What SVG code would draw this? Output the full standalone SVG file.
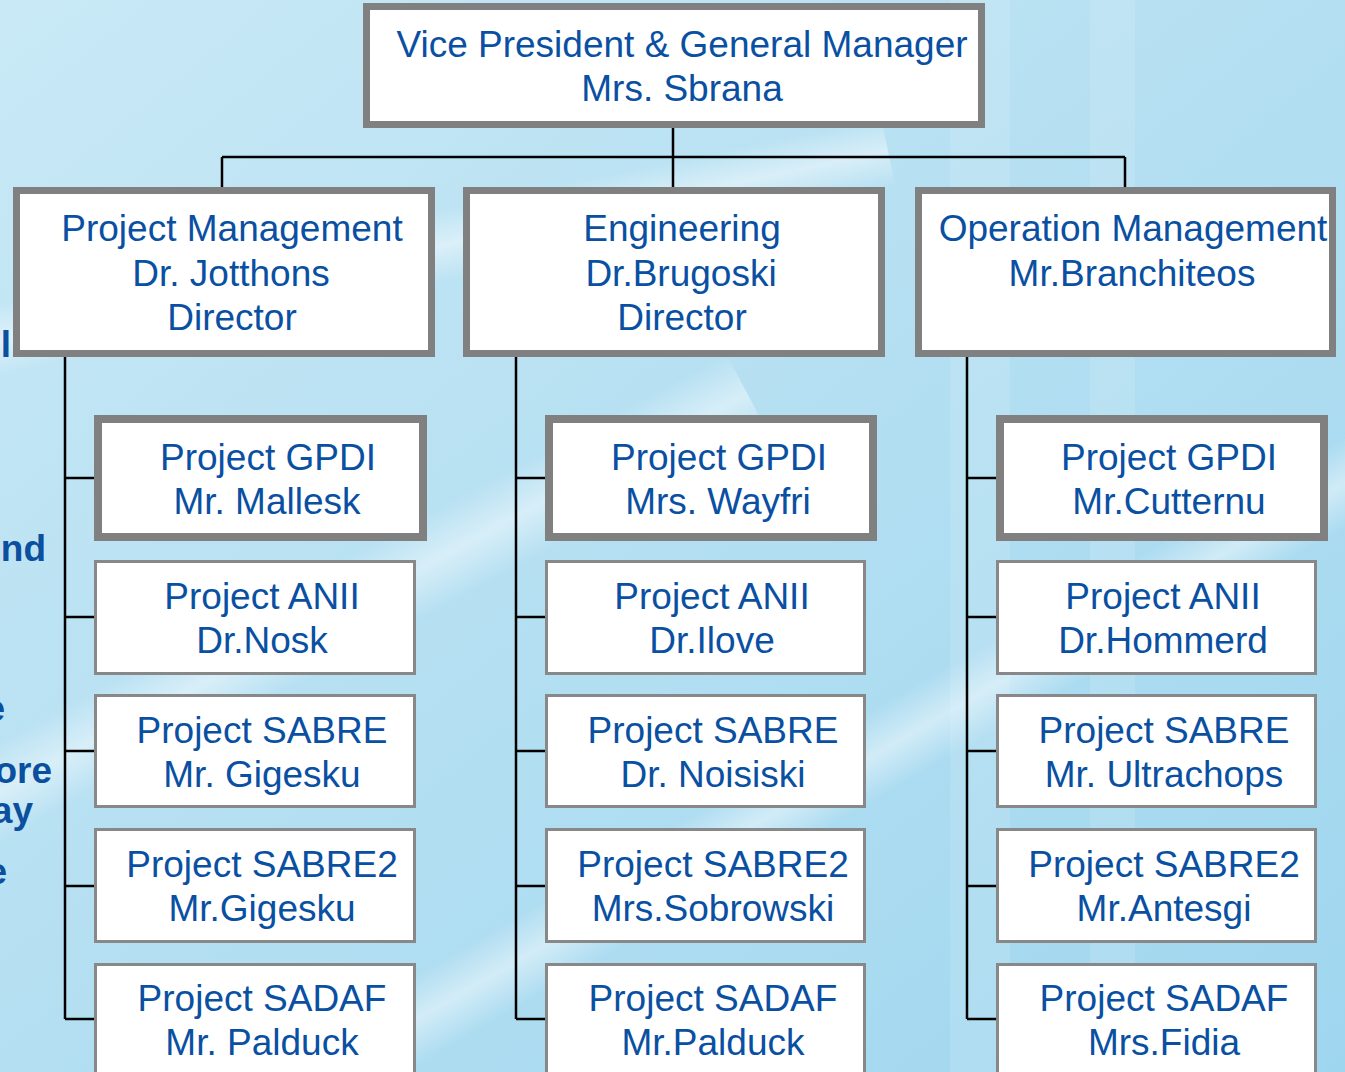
<svg xmlns="http://www.w3.org/2000/svg" width="1345" height="1072" viewBox="0 0 1345 1072">
  <defs>
    <linearGradient id="bg" x1="0" y1="0" x2="1" y2="1">
      <stop offset="0" stop-color="#c9e9f6"/>
      <stop offset="0.45" stop-color="#b6e0f2"/>
      <stop offset="1" stop-color="#9fd6ef"/>
    </linearGradient>
    <linearGradient id="pipe" x1="0" y1="0" x2="0" y2="1">
      <stop offset="0" stop-color="#ffffff" stop-opacity="0"/>
      <stop offset="0.5" stop-color="#ffffff" stop-opacity="0.45"/>
      <stop offset="1" stop-color="#ffffff" stop-opacity="0"/>
    </linearGradient>
    <style>
      .t { font-family: "Liberation Sans", Arial, sans-serif; font-size: 37px; fill: #0a50a2; text-anchor: middle; }
      .frag { font-family: "Liberation Sans", Arial, sans-serif; font-size: 37px; font-weight: bold; fill: #0b4f9f; text-anchor: end; }
      .big { fill: #ffffff; stroke: #808080; stroke-width: 7; }
      .gp { fill: #ffffff; stroke: #808080; stroke-width: 8; }
      .sm { fill: #ffffff; stroke: #888888; stroke-width: 3; }
      .c { stroke: #000000; stroke-width: 2.5; fill: none; }
    </style>
  </defs>

  <g id="background">
    <rect x="0" y="0" width="1345" height="1072" fill="url(#bg)"/>
    <rect x="-200" y="230" width="1100" height="70" fill="url(#pipe)" transform="rotate(-12 350 265)"/>
    <rect x="-100" y="560" width="900" height="90" fill="url(#pipe)" transform="rotate(-28 350 605)"/>
    <rect x="300" y="700" width="1200" height="80" fill="url(#pipe)" transform="rotate(-30 900 740)"/>
    <rect x="950" y="0" width="60" height="1072" fill="#ffffff" fill-opacity="0.12"/>
    <rect x="1090" y="0" width="45" height="1072" fill="#ffffff" fill-opacity="0.12"/>
  </g>

  <g id="fragments">
    <text class="frag" x="11" y="357">l</text>
    <text class="frag" x="46" y="561">nd</text>
    <text class="frag" x="5" y="721">e</text>
    <text class="frag" x="52" y="783">ore</text>
    <text class="frag" x="33" y="823">ay</text>
    <text class="frag" x="7" y="884">e</text>
  </g>

  <g id="connectors">
    <path class="c" d="M673 128 V187 M222 157 H1125 M222 157 V187 M1125 157 V187"/>
    <path class="c" d="M65 357 V1019 M65 478 H94 M65 617 H94 M65 751 H94 M65 886 H94 M65 1019 H94"/>
    <path class="c" d="M516 357 V1019 M516 478 H545 M516 617 H545 M516 751 H545 M516 886 H545 M516 1019 H545"/>
    <path class="c" d="M967 357 V1019 M967 478 H996 M967 617 H996 M967 751 H996 M967 886 H996 M967 1019 H996"/>
  </g>

  <g id="vp">
    <rect class="big" x="366.5" y="6.5" width="615" height="118"/>
    <text class="t" x="682" y="57">Vice President &amp; General Manager</text>
    <text class="t" x="682" y="101">Mrs. Sbrana</text>
  </g>

  <g id="pm">
    <rect class="big" x="16.5" y="190.5" width="415" height="163"/>
    <text class="t" x="232" y="241">Project Management</text>
    <text class="t" x="231" y="286">Dr. Jotthons</text>
    <text class="t" x="232" y="330">Director</text>
  </g>
  <g id="eng">
    <rect class="big" x="466.5" y="190.5" width="415" height="163"/>
    <text class="t" x="682" y="241">Engineering</text>
    <text class="t" x="681" y="286">Dr.Brugoski</text>
    <text class="t" x="682" y="330">Director</text>
  </g>
  <g id="op">
    <rect class="big" x="918.5" y="190.5" width="414" height="163"/>
    <text class="t" x="1133" y="241">Operation Management</text>
    <text class="t" x="1132" y="286">Mr.Branchiteos</text>
  </g>

  <!-- Column 1 -->
  <g id="c1-gpdi">
    <rect class="gp" x="98" y="419" width="325" height="118"/>
    <text class="t" x="268" y="470">Project GPDI</text>
    <text class="t" x="267" y="514">Mr. Mallesk</text>
  </g>
  <g id="c1-anii">
    <rect class="sm" x="95.5" y="561.5" width="319" height="112"/>
    <text class="t" x="262" y="609">Project ANII</text>
    <text class="t" x="262" y="653">Dr.Nosk</text>
  </g>
  <g id="c1-sabre">
    <rect class="sm" x="95.5" y="695.5" width="319" height="111"/>
    <text class="t" x="262" y="743">Project SABRE</text>
    <text class="t" x="262" y="787">Mr. Gigesku</text>
  </g>
  <g id="c1-sabre2">
    <rect class="sm" x="95.5" y="829.5" width="319" height="112"/>
    <text class="t" x="262" y="877">Project SABRE2</text>
    <text class="t" x="262" y="921">Mr.Gigesku</text>
  </g>
  <g id="c1-sadaf">
    <rect class="sm" x="95.5" y="964.5" width="319" height="120"/>
    <text class="t" x="262" y="1011">Project SADAF</text>
    <text class="t" x="262" y="1055">Mr. Palduck</text>
  </g>

  <!-- Column 2 -->
  <g id="c2-gpdi">
    <rect class="gp" x="549" y="419" width="324" height="118"/>
    <text class="t" x="719" y="470">Project GPDI</text>
    <text class="t" x="718" y="514">Mrs. Wayfri</text>
  </g>
  <g id="c2-anii">
    <rect class="sm" x="546.5" y="561.5" width="318" height="112"/>
    <text class="t" x="712" y="609">Project ANII</text>
    <text class="t" x="712" y="653">Dr.Ilove</text>
  </g>
  <g id="c2-sabre">
    <rect class="sm" x="546.5" y="695.5" width="318" height="111"/>
    <text class="t" x="713" y="743">Project SABRE</text>
    <text class="t" x="713" y="787">Dr. Noisiski</text>
  </g>
  <g id="c2-sabre2">
    <rect class="sm" x="546.5" y="829.5" width="318" height="112"/>
    <text class="t" x="713" y="877">Project SABRE2</text>
    <text class="t" x="713" y="921">Mrs.Sobrowski</text>
  </g>
  <g id="c2-sadaf">
    <rect class="sm" x="546.5" y="964.5" width="318" height="120"/>
    <text class="t" x="713" y="1011">Project SADAF</text>
    <text class="t" x="713" y="1055">Mr.Palduck</text>
  </g>

  <!-- Column 3 -->
  <g id="c3-gpdi">
    <rect class="gp" x="1000" y="419" width="324" height="118"/>
    <text class="t" x="1169" y="470">Project GPDI</text>
    <text class="t" x="1169" y="514">Mr.Cutternu</text>
  </g>
  <g id="c3-anii">
    <rect class="sm" x="997.5" y="561.5" width="318" height="112"/>
    <text class="t" x="1163" y="609">Project ANII</text>
    <text class="t" x="1163" y="653">Dr.Hommerd</text>
  </g>
  <g id="c3-sabre">
    <rect class="sm" x="997.5" y="695.5" width="318" height="111"/>
    <text class="t" x="1164" y="743">Project SABRE</text>
    <text class="t" x="1164" y="787">Mr. Ultrachops</text>
  </g>
  <g id="c3-sabre2">
    <rect class="sm" x="997.5" y="829.5" width="318" height="112"/>
    <text class="t" x="1164" y="877">Project SABRE2</text>
    <text class="t" x="1164" y="921">Mr.Antesgi</text>
  </g>
  <g id="c3-sadaf">
    <rect class="sm" x="997.5" y="964.5" width="318" height="120"/>
    <text class="t" x="1164" y="1011">Project SADAF</text>
    <text class="t" x="1164" y="1055">Mrs.Fidia</text>
  </g>
</svg>
